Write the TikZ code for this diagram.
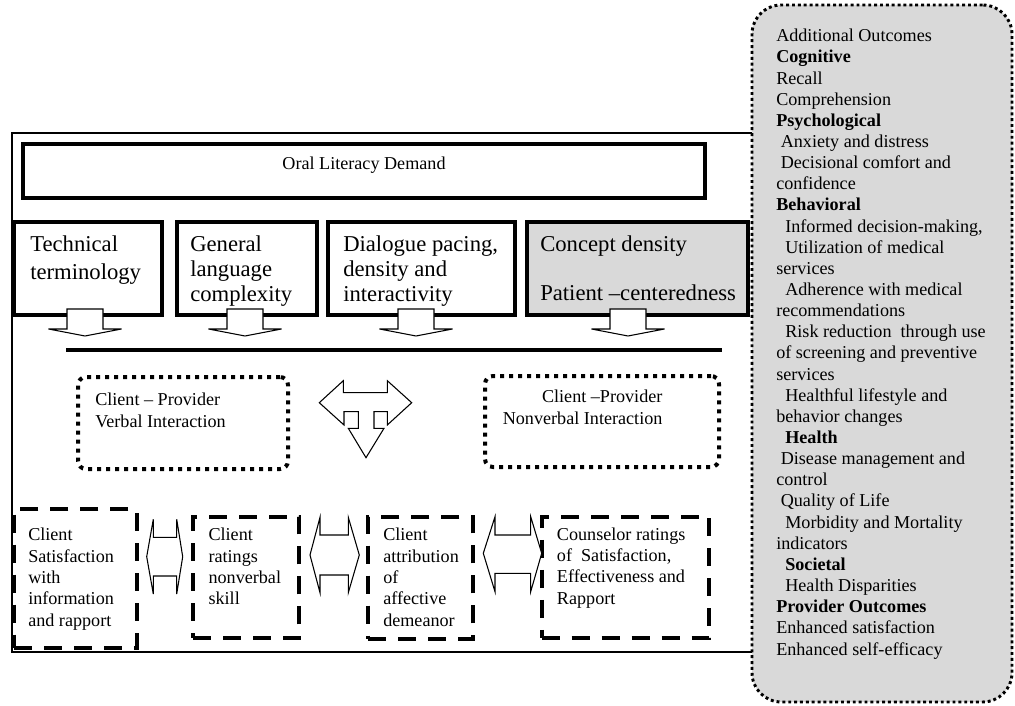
\documentclass[tikz,border=0pt]{standalone}
\usepackage{fontspec}
\setmainfont{Liberation Serif}
\usetikzlibrary{fit}
\definecolor{panelgray}{HTML}{D9D9D9}
\newcommand\sbi{\hspace*{.25em}}
\newcommand\sbii{\hspace*{.5em}}
\tikzset{
  outerframe/.style={draw, line width=1.1pt, inner sep=0pt},
  thickbox/.style={draw, line width=3.3pt, inner sep=0pt},
  dashbox/.style={draw, line width=3pt, dash pattern=on 13.5pt off 9pt, inner sep=0pt},
  dotbox/.style={draw, line width=3pt, dash pattern=on 3pt off 3.75pt, rounded corners=6pt, inner sep=0pt},
  sidepanel/.style={draw, fill=panelgray, line width=2.2pt, dash pattern=on 2.2pt off 2.2pt, rounded corners=22pt, inner sep=0pt},
  blockarrow/.style={draw, fill=white, line width=0.8pt, line join=miter},
  bigtext/.style={font=\fontsize{17}{18.75}\selectfont, align=left, inner sep=0pt, anchor=base west},
  smalltext/.style={font=\fontsize{13.6}{16}\selectfont, align=left, inner sep=0pt, anchor=base west},
  sidetext/.style={font=\fontsize{13.6}{15.86}\selectfont, align=left, inner sep=0pt, anchor=base west},
  downarrow/.pic={\draw[blockarrow] (-18,0) -- (18,0) -- (18,20) -- (36.5,20) -- (0,27) -- (-36.5,20) -- (-18,20) -- cycle;}
}
\begin{document}
\begin{tikzpicture}[x=0.75pt,y=-0.75pt]
\useasboundingbox (0,0) rectangle (1015,706);
% outer frame
\node[outerframe, fit={(12,133) (765,652)}] (frame) {};
% oral literacy demand
\node[thickbox, fit={(23,144) (705,198)}, font=\fontsize{13.6}{16}\selectfont] (oral) {Oral Literacy Demand};
% top boxes
\node[thickbox, fit={(14,222) (162,315)}] (b1) {};
\node[thickbox, fit={(177,222) (317,315)}] (b2) {};
\node[thickbox, fit={(328,222) (515,315)}] (b3) {};
\node[thickbox, fill=panelgray, fit={(527,222) (748,315)}] (b4) {};
% (anchors are at the baseline of the last line)
\node[bigtext, font=\fontsize{17}{20.6}\selectfont] (t1) at (30,279.2) {Technical\\terminology};
\node[bigtext] (t2) at (190,301.7) {General\\language\\complexity};
\node[bigtext] (t3) at (343,301.7) {Dialogue pacing,\\density and\\interactivity};
\node[bigtext] (t4) at (540,300.5) {Concept density\\[18.3pt]Patient –centeredness};
% down arrows
\coordinate (d1) at (85,309);
\coordinate (d2) at (245,309);
\coordinate (d3) at (416,309);
\coordinate (d4) at (628,309);
\pic at (d1) {downarrow};
\pic at (d2) {downarrow};
\pic at (d3) {downarrow};
\pic at (d4) {downarrow};
% horizontal bar
\coordinate (barL) at (66,350);
\coordinate (barR) at (722,350);
\draw[line width=3pt] (barL) -- (barR);
% dotted interaction boxes
\node[dotbox, fit={(78,377) (288,469)}] (verbal) {};
\node[dotbox, fit={(485,376) (719,467)}] (nonverbal) {};
\node[smalltext] (vtext) at (95,427.3) {Client – Provider\\Verbal Interaction};
\node[smalltext, align=right, anchor=base east] (ntext) at (662.7,424.3) {Client –Provider\\Nonverbal Interaction};
% central three-way arrow
\draw[blockarrow] (319.3,402.7) -- (343.3,380.7) -- (343.3,392.7) -- (387.3,392.7) -- (387.3,380.7)
  -- (411.7,402.7) -- (387.3,425) -- (387.3,411.7) -- (374,411.7) -- (374,428.3) -- (384,428.3)
  -- (366,457.7) -- (348.3,428.3) -- (358.3,428.3) -- (358.3,411.7) -- (344,411.7) -- (344,425) -- cycle;
% bottom dashed boxes
\node[dashbox, fit={(14,509) (136.7,648)}] (ba) {};
\node[dashbox, fit={(193.3,516.7) (299.3,638.3)}] (bb) {};
\node[dashbox, fit={(368.3,516.7) (472.7,639)}] (bc) {};
\node[dashbox, fit={(541.7,516.7) (709.3,638.3)}] (bd) {};
\node[smalltext] (ta) at (28,626) {Client\\Satisfaction\\with\\information\\and rapport};
\node[smalltext] (tb) at (208.3,604.7) {Client\\ratings\\nonverbal\\skill};
\node[smalltext] (tc) at (383,626) {Client\\attribution\\of\\affective\\demeanor};
\node[smalltext] (td) at (556.7,604) {Counselor ratings\\of\ \ Satisfaction,\\Effectiveness and\\Rapport};
% double arrows
\draw[blockarrow] (146.7,556.7) -- (153.3,519.3) -- (153.3,537.3) -- (176.7,537.3) -- (176.7,519.3)
  -- (182.7,556.7) -- (176.7,594) -- (176.7,576) -- (153.3,576) -- (153.3,594) -- cycle;
\draw[blockarrow] (310,555) -- (320,517.3) -- (320,535) -- (348.3,535) -- (348.3,517.3)
  -- (359.3,555) -- (348.3,592.7) -- (348.3,575) -- (320,575) -- (320,592.7) -- cycle;
\draw[blockarrow] (483.3,553.3) -- (495,516.7) -- (495,535) -- (530.7,535) -- (530.7,516.7)
  -- (541.7,553.3) -- (530.7,591.7) -- (530.7,573.3) -- (495,573.3) -- (495,591.7) -- cycle;
% side panel
\node[sidepanel, fit={(752,5) (1012,702)}] (side) {};
\node[sidetext] (sidetxt) at (776,655) {Additional Outcomes\\
\textbf{Cognitive}\\
Recall\\
Comprehension\\
\textbf{Psychological}\\
\sbi Anxiety and distress\\
\sbi Decisional comfort and\\
confidence\\
\textbf{Behavioral}\\
\sbii Informed decision-making,\\
\sbii Utilization of medical\\
services\\
\sbii Adherence with medical\\
recommendations\\
\sbii Risk reduction\ \ through use\\
of screening and preventive\\
services\\
\sbii Healthful lifestyle and\\
behavior changes\\
\sbii\textbf{Health}\\
\sbi Disease management and\\
control\\
\sbi Quality of Life\\
\sbii Morbidity and Mortality\\
indicators\\
\sbii\textbf{Societal}\\
\sbii Health Disparities\\
\textbf{Provider Outcomes}\\
Enhanced satisfaction\\
Enhanced self-efficacy};
\end{tikzpicture}
\end{document}
